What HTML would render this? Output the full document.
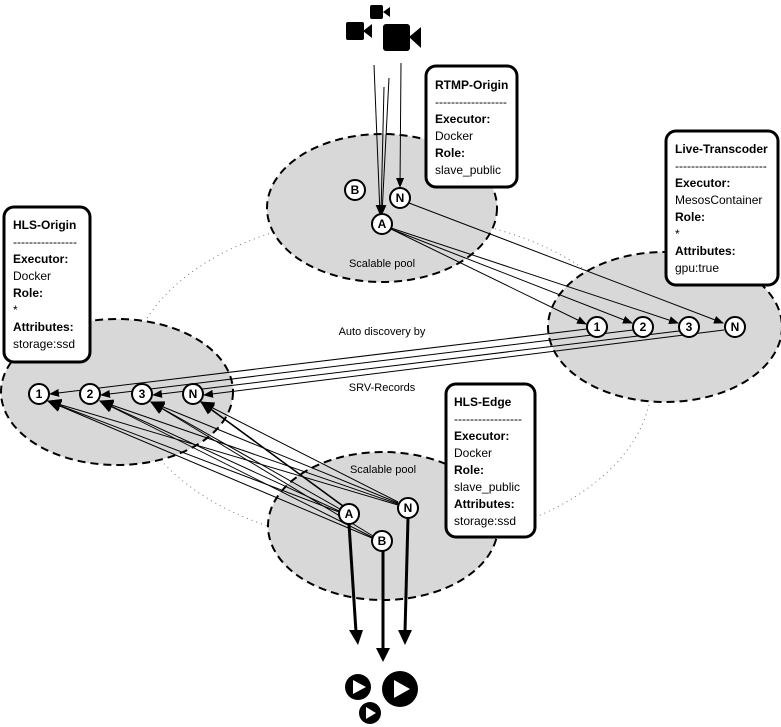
<!DOCTYPE html>
<html><head><meta charset="utf-8"><style>
html,body{margin:0;padding:0;background:#fff;}
svg{display:block;}
text{font-family:"Liberation Sans",sans-serif;}
.bt{font-family:"DejaVu Sans","Liberation Sans",sans-serif;font-size:12px;}
</style></head><body>
<svg width="781" height="727" viewBox="0 0 781 727" xmlns="http://www.w3.org/2000/svg">
<defs>
<marker id="a" markerWidth="10" markerHeight="8" refX="9" refY="4" orient="auto" markerUnits="userSpaceOnUse"><path d="M0,0 L10,4 L0,8 z" fill="#000"/></marker>
<marker id="b" markerWidth="14" markerHeight="12" refX="13" refY="6" orient="auto" markerUnits="userSpaceOnUse"><path d="M0,0 L14,6 L0,12 z" fill="#000"/></marker>
</defs>
<ellipse cx="390" cy="380" rx="262" ry="165" fill="none" stroke="#777" stroke-dasharray="1,4"/>
<g fill="#d8d8d8" stroke="#000" stroke-width="2" stroke-dasharray="8,5">
<ellipse cx="382" cy="208" rx="115" ry="74"/>
<ellipse cx="665" cy="327" rx="117" ry="75"/>
<ellipse cx="117" cy="392" rx="116" ry="73"/>
<ellipse cx="383" cy="526" rx="115" ry="74"/>
</g>
<text x="382" y="267" font-size="11" text-anchor="middle">Scalable pool</text>
<text x="383" y="473" font-size="11" text-anchor="middle">Scalable pool</text>
<text x="382" y="335" font-size="11" text-anchor="middle">Auto discovery by</text>
<text x="382" y="391" font-size="11" text-anchor="middle">SRV-Records</text>
<g stroke="#000" stroke-width="1" fill="none">
<line x1="374" y1="65" x2="380" y2="214" marker-end="url(#a)"/>
<line x1="389" y1="78" x2="382" y2="214" marker-end="url(#a)"/>
<line x1="384" y1="87" x2="381" y2="214" marker-end="url(#a)"/>
<line x1="401" y1="63" x2="400" y2="187" marker-end="url(#a)"/>
<line x1="391" y1="229" x2="586" y2="324" marker-end="url(#a)"/>
<line x1="391" y1="229" x2="632" y2="323" marker-end="url(#a)"/>
<line x1="391" y1="228" x2="678" y2="323" marker-end="url(#a)"/>
<line x1="409" y1="203" x2="723" y2="323" marker-end="url(#a)"/>
<line x1="587" y1="329" x2="50" y2="394" marker-end="url(#a)"/>
<line x1="633" y1="330" x2="101" y2="395" marker-end="url(#a)"/>
<line x1="679" y1="331" x2="153" y2="395" marker-end="url(#a)"/>
<line x1="724" y1="330" x2="204" y2="395" marker-end="url(#a)"/>
</g>
<g stroke="#000" stroke-width="1" fill="none">
<line x1="339" y1="512" x2="48" y2="401" marker-end="url(#b)"/>
<line x1="372" y1="538" x2="48" y2="401" marker-end="url(#b)"/>
<line x1="398" y1="505" x2="48" y2="401" marker-end="url(#b)"/>
<line x1="339" y1="511" x2="100" y2="401" marker-end="url(#b)"/>
<line x1="372" y1="537" x2="100" y2="401" marker-end="url(#b)"/>
<line x1="398" y1="504" x2="100" y2="401" marker-end="url(#b)"/>
<line x1="340" y1="509" x2="151" y2="402" marker-end="url(#b)"/>
<line x1="373" y1="536" x2="151" y2="402" marker-end="url(#b)"/>
<line x1="398" y1="503" x2="151" y2="402" marker-end="url(#b)"/>
<line x1="343" y1="506" x2="201" y2="402" stroke-width="1.6" marker-end="url(#b)"/>
<line x1="398" y1="502" x2="201" y2="402" marker-end="url(#b)"/>
</g>
<g stroke="#000" stroke-width="3">
<line x1="349" y1="524" x2="356" y2="632"/>
<line x1="383" y1="551" x2="383" y2="650"/>
<line x1="408" y1="518" x2="405" y2="632"/>
</g>
<g fill="#000">
<path d="M349,630 L363,630 L358,645 Z"/>
<path d="M376,648 L390,648 L383,662 Z"/>
<path d="M398,630 L412,630 L405,645 Z"/>
</g>
<g fill="#fff" stroke="#000" stroke-width="2">
<circle cx="355" cy="190" r="10"/><circle cx="400" cy="198" r="10"/><circle cx="382" cy="224" r="10"/>
<circle cx="597" cy="327" r="10"/><circle cx="643" cy="327" r="10"/><circle cx="689" cy="327" r="10"/><circle cx="735" cy="327" r="10"/>
<circle cx="39" cy="394" r="10"/><circle cx="90" cy="394" r="10"/><circle cx="142" cy="394" r="10"/><circle cx="193" cy="394" r="10"/>
<circle cx="349" cy="514" r="10"/><circle cx="382" cy="541" r="10"/><circle cx="408" cy="508" r="10"/>
</g>
<g font-size="11" font-weight="bold" text-anchor="middle" class="bt">
<text x="355" y="194">B</text><text x="400" y="202">N</text><text x="382" y="228">A</text>
<text x="597" y="331">1</text><text x="643" y="331">2</text><text x="689" y="331">3</text><text x="735" y="331">N</text>
<text x="39" y="398">1</text><text x="90" y="398">2</text><text x="142" y="398">3</text><text x="193" y="398">N</text>
<text x="349" y="518">A</text><text x="382" y="545">B</text><text x="408" y="512">N</text>
</g>
<g fill="#000">
<rect x="370" y="5" width="13" height="14" rx="2"/><path d="M383,12 L390,7 L390,17 Z"/>
<rect x="346" y="22" width="18" height="18" rx="2"/><path d="M363,31 L372,24 L372,38 Z"/>
<rect x="383" y="24" width="27" height="27" rx="3"/><path d="M409,37 L421,27 L421,48 Z"/>
<circle cx="358" cy="687" r="13"/><circle cx="400" cy="689" r="18"/><circle cx="370" cy="713" r="11"/>
</g>
<g fill="#fff">
<path d="M353,680 L366,687 L353,694 Z"/>
<path d="M394,680 L410,689 L394,698 Z"/>
<path d="M366,707 L376,713 L366,719 Z"/>
</g>
<g fill="#fff" stroke="#000" stroke-width="3">
<rect x="426" y="66" width="91" height="121" rx="10"/>
<rect x="666" y="131" width="112" height="154" rx="10"/>
<rect x="4" y="207" width="86" height="155" rx="10"/>
<rect x="446" y="384" width="89" height="153" rx="10"/>
</g>
<g class="bt" fill="#000">
<text x="435" y="89" font-weight="bold">RTMP-Origin</text>
<text x="435" y="106">------------------</text>
<text x="435" y="123" font-weight="bold">Executor:</text>
<text x="435" y="140">Docker</text>
<text x="435" y="157" font-weight="bold">Role:</text>
<text x="435" y="174">slave_public</text>

<text x="675" y="153" font-weight="bold">Live-Transcoder</text>
<text x="675" y="170">-----------------------</text>
<text x="675" y="187" font-weight="bold">Executor:</text>
<text x="675" y="204">MesosContainer</text>
<text x="675" y="221" font-weight="bold">Role:</text>
<text x="675" y="238">*</text>
<text x="675" y="255" font-weight="bold">Attributes:</text>
<text x="675" y="272">gpu:true</text>

<text x="13" y="229" font-weight="bold">HLS-Origin</text>
<text x="13" y="246">----------------</text>
<text x="13" y="263" font-weight="bold">Executor:</text>
<text x="13" y="280">Docker</text>
<text x="13" y="297" font-weight="bold">Role:</text>
<text x="13" y="314">*</text>
<text x="13" y="331" font-weight="bold">Attributes:</text>
<text x="13" y="348">storage:ssd</text>

<text x="454" y="406" font-weight="bold">HLS-Edge</text>
<text x="454" y="423">-----------------</text>
<text x="454" y="440" font-weight="bold">Executor:</text>
<text x="454" y="457">Docker</text>
<text x="454" y="474" font-weight="bold">Role:</text>
<text x="454" y="491">slave_public</text>
<text x="454" y="508" font-weight="bold">Attributes:</text>
<text x="454" y="525">storage:ssd</text>
</g>
</svg>
</body></html>
